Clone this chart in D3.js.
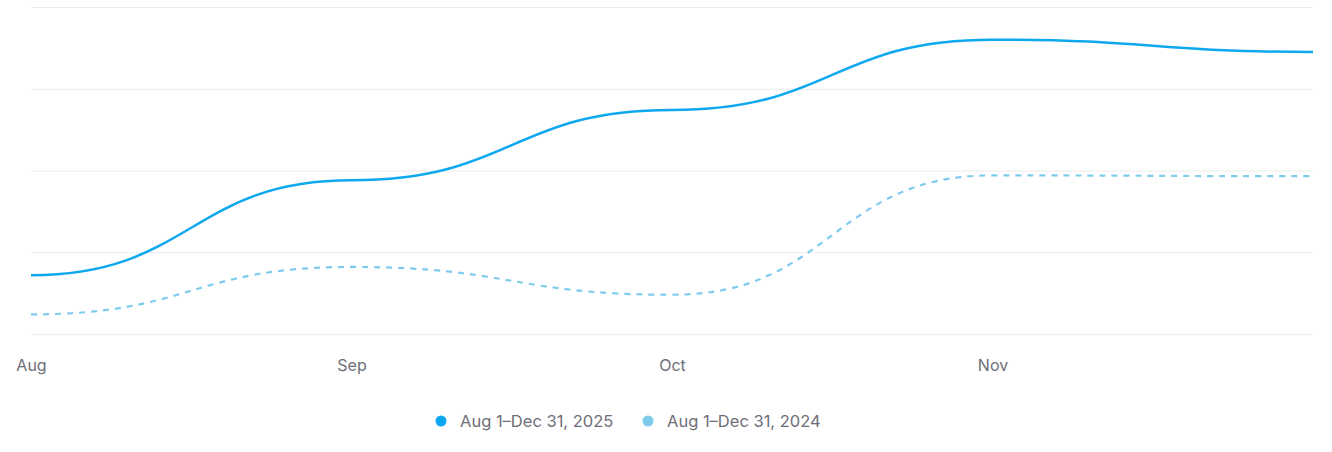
<!DOCTYPE html>
<html>
<head>
<meta charset="utf-8">
<script src="https://cdn.jsdelivr.net/npm/d3@7"></script>
<style>
  html, body { margin: 0; padding: 0; background: #ffffff; }
  svg { display: block; font-family: Inter, "Noto Sans", sans-serif; }
</style>
</head>
<body>
<svg id="chart" width="1332" height="452"></svg>
<script>
// ---- data ----
const months = ["Aug", "Sep", "Oct", "Nov", "Dec"];
const tickLabels = ["Aug", "Sep", "Oct", "Nov"];
const series2025 = [72, 188, 274, 360, 345];
const series2024 = [24, 82, 48, 194, 193];
const seriesNames = ["Aug 1\u2013Dec 31, 2025", "Aug 1\u2013Dec 31, 2024"];
const yTicks = [0, 100, 200, 300, 400];

// ---- layout ----
const svg = d3.select("#chart");
const margin = { left: 31, right: 19, top: 7, bottom: 118 };
const W = 1332, H = 452;
const x = d3.scalePoint().domain(months).range([margin.left, W - margin.right]);
const y = d3.scaleLinear().domain([0, 400]).range([H - margin.bottom, margin.top]);

// gridlines
svg.append("g")
  .selectAll("line")
  .data(yTicks)
  .join("line")
  .attr("x1", margin.left)
  .attr("x2", W - margin.right)
  .attr("y1", d => y(d) + 0.5)
  .attr("y2", d => y(d) + 0.5)
  .attr("stroke", "#ececee")
  .attr("stroke-width", 1);

// x axis labels
const xAxis = d3.axisBottom(x).tickValues(tickLabels).tickSize(0).tickPadding(0);
const gx = svg.append("g")
  .attr("transform", `translate(0, ${H - margin.bottom})`)
  .call(xAxis);
gx.select(".domain").remove();
gx.selectAll("text")
  .attr("y", 37)
  .attr("dy", 0)
  .attr("fill", "#6e6e78")
  .attr("font-size", 16)
  .attr("font-family", "Inter, 'Noto Sans', sans-serif");

// lines
const line = d3.line()
  .x((d, i) => x(months[i]))
  .y(d => y(d))
  .curve(d3.curveBumpX);

svg.append("path")
  .datum(series2024)
  .attr("d", line)
  .attr("fill", "none")
  .attr("stroke", "#7fcbed")
  .attr("stroke-width", 2.2)
  .attr("stroke-dasharray", "6,6");

svg.append("path")
  .datum(series2025)
  .attr("d", line)
  .attr("fill", "none")
  .attr("stroke", "#0ea8ef")
  .attr("stroke-width", 2.5);

// legend
const legendColors = ["#0ea8ef", "#7fcbed"];
const legendX = [441, 648];
const lg = svg.append("g");
seriesNames.forEach((name, i) => {
  lg.append("circle")
    .attr("cx", legendX[i])
    .attr("cy", 421)
    .attr("r", 5.5)
    .attr("fill", legendColors[i]);
  lg.append("text")
    .attr("x", legendX[i] + 19)
    .attr("y", 421)
    .attr("dy", "0.35em")
    .attr("fill", "#6e6e78")
    .attr("font-size", 16.5)
    .text(name);
});
</script>
</body>
</html>
